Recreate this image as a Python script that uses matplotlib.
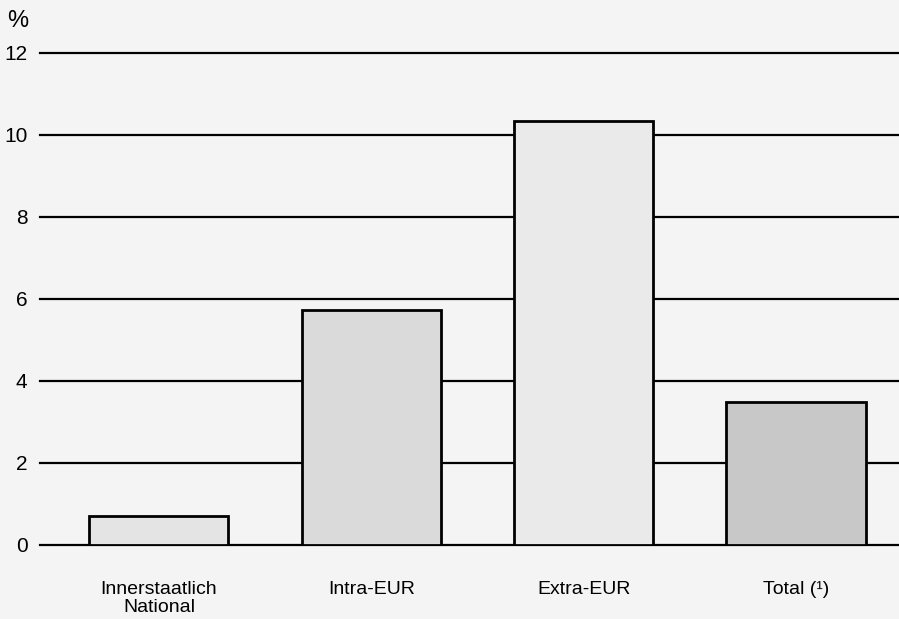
import matplotlib
matplotlib.use("Agg")
import matplotlib.pyplot as plt

categories = ["Innerstaatlich\nNational", "Intra-EUR", "Extra-EUR", "Total (¹)"]
values = [0.7, 5.72, 10.35, 3.5]
fills = ["#e4e4e4", "#dadada", "#eaeaea", "#c8c8c8"]
yticks = [0, 2, 4, 6, 8, 10, 12]

plt.rcParams['font.family'] = ['Liberation Sans', 'DejaVu Sans']

fig = plt.figure(figsize=(8.99, 6.19), dpi=100)
fig.patch.set_facecolor("#f4f4f4")
W, H = 899, 619
ax = fig.add_axes([40 / W, (H - 545) / H, (W - 40) / W, (545 - 53) / H])
ax.set_facecolor("#f4f4f4")

x = list(range(len(categories)))
for yv in yticks:
    ax.axhline(yv, color="black", lw=1.6, zorder=1, clip_on=False)
ax.bar(x, values, width=0.655, color=fills, edgecolor="black", linewidth=2.0, zorder=2)

ax.set_xlim(-0.56, 3.485)
ax.set_ylim(0, 12)
for s in ax.spines.values():
    s.set_visible(False)
ax.set_yticks(yticks)
ax.set_yticklabels([str(v) for v in yticks], fontsize=15)
ax.set_xticks(x)
ax.set_xticklabels(categories, fontsize=14, linespacing=1.08, va="top")
ax.tick_params(axis="y", length=0, pad=9)
ax.tick_params(axis="x", length=0, pad=26)

fig.text(7 / W, 1 - 21 / H, "%", fontsize=17, va="center", ha="left")

fig.savefig("out.png", dpi=100, facecolor=fig.get_facecolor())
